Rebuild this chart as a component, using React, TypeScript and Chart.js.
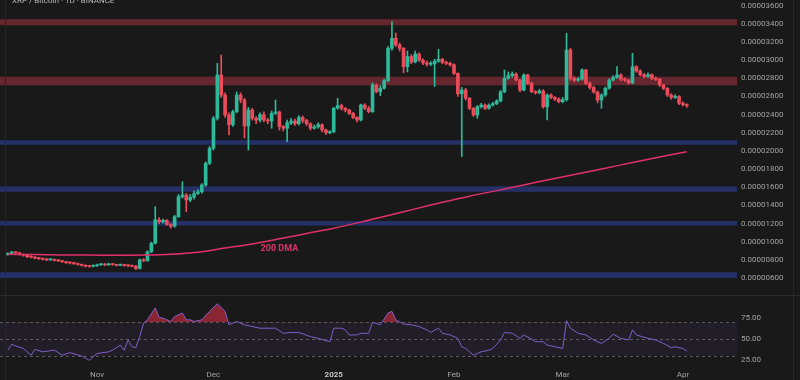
import React, { useEffect, useRef } from "react";
import { Chart, registerables } from "chart.js";
Chart.register(...registerables);

// ---------------- data (prices in satoshi, 1e-8 BTC) ----------------
const firstOpen = 860;
const closes = [
  870, 885, 878, 860, 850, 835, 830, 820, 815, 805, 800, 803, 795, 790, 780, 770, 765, 760, 750, 740,
  730, 728, 735, 745, 750, 745, 755, 748, 740, 745, 738, 735, 730, 705, 800, 790, 890, 983, 1240, 1220,
  1235, 1190, 1170, 1276, 1496, 1515, 1460, 1490, 1530, 1550, 1625, 1864, 2029, 2360, 2837, 2616, 2396, 2290, 2432, 2616,
  2560, 2275, 2451, 2360, 2340, 2400, 2340, 2330, 2415, 2430, 2267, 2250, 2310, 2330, 2300, 2370, 2335, 2300, 2250, 2265,
  2290, 2230, 2200, 2212, 2470, 2500, 2470, 2451, 2415, 2370, 2341, 2506, 2470, 2432, 2727, 2653, 2690, 2774, 3131, 3241,
  3168, 3131, 2928, 3040, 2980, 3068, 3000, 2970, 2955, 2960, 2990, 3010, 2975, 2965, 2950, 2855, 2630, 2671, 2580, 2470,
  2396, 2487, 2505, 2470, 2505, 2520, 2550, 2653, 2800, 2830, 2848, 2782, 2671, 2837, 2745, 2653, 2640, 2660, 2487, 2616,
  2590, 2570, 2543, 2565, 3112, 2800, 2780, 2790, 2892, 2745, 2700, 2650, 2561, 2616, 2690, 2782, 2810, 2837, 2790, 2780,
  2750, 2928, 2880, 2840, 2820, 2840, 2800, 2790, 2727, 2690, 2616, 2590, 2600, 2525, 2510, 2500,
];
const highs = [
  880, 895, 892, 882, 865, 855, 845, 835, 828, 822, 815, 815, 810, 800, 795, 785, 778, 772, 765, 755,
  745, 740, 745, 755, 762, 760, 765, 762, 752, 755, 752, 745, 742, 740, 810, 815, 900, 995, 1386, 1265,
  1250, 1245, 1200, 1290, 1520, 1661, 1530, 1520, 1560, 1575, 1640, 1880, 2050, 2380, 2965, 3057, 2640, 2420, 2450, 2650,
  2640, 2580, 2480, 2470, 2380, 2420, 2430, 2360, 2440, 2561, 2440, 2280, 2340, 2360, 2350, 2390, 2385, 2350, 2310, 2285,
  2310, 2300, 2240, 2225, 2480, 2580, 2515, 2480, 2460, 2425, 2380, 2515, 2520, 2490, 2750, 2740, 2720, 2790, 3150, 3424,
  3300, 3190, 3140, 3100, 3060, 3100, 3080, 3015, 2990, 2985, 3010, 3120, 3020, 2990, 2980, 2960, 2860, 2700, 2690, 2590,
  2480, 2500, 2525, 2520, 2520, 2535, 2565, 2665, 2892, 2870, 2870, 2860, 2790, 2850, 2845, 2760, 2665, 2680, 2675, 2630,
  2630, 2600, 2585, 2590, 3296, 3130, 2820, 2810, 2905, 2900, 2760, 2715, 2660, 2630, 2705, 2795, 2830, 2930, 2850, 2805,
  2790, 3076, 2940, 2895, 2855, 2860, 2850, 2815, 2800, 2735, 2700, 2630, 2620, 2610, 2540, 2520,
];
const lows = [
  850, 865, 870, 852, 840, 825, 822, 810, 805, 798, 792, 795, 788, 780, 772, 762, 755, 750, 742, 732,
  722, 718, 722, 728, 738, 735, 740, 740, 732, 735, 730, 725, 722, 692, 700, 780, 785, 880, 975, 1200,
  1205, 1180, 1150, 1160, 1270, 1480, 1331, 1440, 1470, 1520, 1535, 1610, 1850, 2010, 2340, 2590, 2370, 2176, 2270, 2420,
  2530, 2143, 2010, 2340, 2300, 2320, 2320, 2300, 2250, 2400, 2230, 2220, 2102, 2290, 2280, 2285, 2310, 2280, 2230, 2240,
  2250, 2210, 2180, 2190, 2200, 2460, 2450, 2430, 2400, 2355, 2320, 2330, 2455, 2420, 2425, 2640, 2610, 2680, 2760, 3110,
  3150, 3100, 2860, 2870, 2960, 2970, 2985, 2950, 2935, 2940, 2708, 2975, 2960, 2950, 2935, 2840, 2600, 1937, 2560, 2455,
  2380, 2360, 2470, 2455, 2460, 2495, 2510, 2540, 2640, 2790, 2810, 2770, 2650, 2660, 2730, 2640, 2625, 2630, 2470, 2341,
  2575, 2555, 2530, 2530, 2550, 2780, 2760, 2765, 2780, 2730, 2680, 2635, 2530, 2470, 2600, 2680, 2770, 2800, 2775, 2765,
  2735, 2740, 2865, 2825, 2805, 2810, 2785, 2775, 2710, 2675, 2600, 2570, 2580, 2510, 2495, 2480,
];

// 200-day moving average (day index, value)
const dmaIdx = [0, 7, 14, 21, 28, 35, 42, 49, 56, 63, 70, 77, 84, 91, 98, 105, 112, 119, 126, 133, 140, 147, 154, 161, 168, 175];
const dmaVals = [861, 858, 855, 853, 851, 853, 862, 885, 930, 976, 1032, 1091, 1149, 1216, 1289, 1362, 1434, 1502, 1563, 1626, 1688, 1749, 1810, 1872, 1933, 1992];

// RSI (day index, value)
const rsiIdx = [0, 1, 2, 4, 6, 7, 9, 12, 14, 16, 19, 21, 23, 26, 27, 29, 30, 31, 32, 33, 34, 35, 36, 38, 39, 40, 42, 43, 45, 46,
  47, 48, 50, 52, 54, 56, 57, 59, 61, 65, 67, 69, 71, 73, 75, 78, 80, 83, 84, 86, 87, 88, 90, 91, 93, 94, 96, 98, 99, 100,
  102, 104, 106, 108, 109, 111, 112, 114, 116, 117, 118, 120, 121, 122, 124, 125, 127, 128, 130, 132, 133, 135, 136, 138, 139, 141, 143, 144, 145, 147,
  149, 151, 153, 155, 156, 158, 160, 161, 162, 165, 167, 169, 171, 172, 174, 175];
const rsiVals = [37, 44, 42, 39, 31, 38, 35, 37, 31, 34, 30, 25, 33, 35, 37, 43, 37, 49, 41, 40, 53, 69, 73, 87, 76, 75, 71, 77, 81, 73,
  73, 71, 73, 83, 92, 83, 67, 71, 67, 63, 63, 63, 57, 58, 58, 53, 51, 47, 63, 63, 61, 55, 55, 57, 57, 70, 67, 81, 83, 73,
  68, 67, 65, 61, 58, 63, 57, 55, 51, 41, 39, 31, 33, 35, 37, 39, 49, 58, 57, 51, 55, 50, 47, 47, 43, 41, 39, 72, 63, 57,
  55, 49, 45, 51, 56, 51, 49, 61, 55, 51, 49, 45, 40, 41, 39, 36];

// zones
const bandLows = [3385, 2724, 2068, 1550, 1178, 600];
const bandHighs = [3452, 2818, 2118, 1610, 1228, 664];
const bandKinds = ["res", "res", "sup", "sup", "sup", "sup"];

// ticks
const priceTicks = [600, 800, 1000, 1200, 1400, 1600, 1800, 2000, 2200, 2400, 2600, 2800, 3000, 3200, 3400, 3600];
const rsiTicks = [25, 50, 75];
const rsiLevels = [70, 50, 30];
const monthTickIdx = [23, 53, 84, 115, 143, 174];
const monthTickLabels = ["Nov", "Dec", "2025", "Feb", "Mar", "Apr"];

const titleText = "XRP / Bitcoin · 1D · BINANCE";
const dmaLabel = "200 DMA";
const dmaLabelIdx = 70;
const dmaLabelVal = 918;

// ---------------- style ----------------
const BG = "#191919";
const UP = "#2db99a";
const DOWN = "#ec4b5b";
const RED_BAND = "#65262d";
const BLUE_BAND = "#243066";
const DMA_COLOR = "#e2306a";
const RSI_COLOR = "#7e5fc6";
const TEXT = "#a3a3a3";
const FONT = "Roboto, 'Noto Sans', sans-serif";
const X_MIN = -2.01;
const X_MAX = 187.42;
const AXIS_W = 65;

const opens = closes.map((c, i) => (i === 0 ? firstOpen : closes[i - 1]));
const candleColor = (i: number) => (closes[i] >= opens[i] ? UP : DOWN);

function fixVertical(s: any) {
  s.width = AXIS_W;
  s.paddingTop = 0;
  s.paddingBottom = 0;
  if (s._margins) {
    s._margins.top = 0;
    s._margins.bottom = 0;
  }
}

export default function App() {
  const mainRef = useRef<HTMLCanvasElement>(null);
  const rsiRef = useRef<HTMLCanvasElement>(null);

  useEffect(() => {
    const bandsPlugin = {
      id: "bands",
      beforeDatasetsDraw(chart: any) {
        const { ctx, chartArea, scales } = chart;
        const y = scales.y;
        ctx.save();
        bandLows.forEach((lo, k) => {
          const y1 = y.getPixelForValue(bandHighs[k]);
          const y2 = y.getPixelForValue(lo);
          ctx.fillStyle = bandKinds[k] === "res" ? RED_BAND : BLUE_BAND;
          ctx.fillRect(chartArea.left, y1, chartArea.right + 2 - chartArea.left, y2 - y1);
        });
        ctx.restore();
      },
      afterDatasetsDraw(chart: any) {
        const { ctx, scales } = chart;
        ctx.save();
        ctx.font = `bold 9px ${FONT}`;
        ctx.fillStyle = DMA_COLOR;
        ctx.textAlign = "center";
        ctx.textBaseline = "middle";
        ctx.fillText(dmaLabel, scales.x.getPixelForValue(dmaLabelIdx), scales.y.getPixelForValue(dmaLabelVal));
        ctx.restore();
      },
    };

    const main = new Chart(mainRef.current!, {
      type: "bar",
      data: {
        datasets: [
          {
            type: "line",
            label: "200 DMA",
            data: dmaIdx.map((x, k) => ({ x, y: dmaVals[k] })),
            borderColor: DMA_COLOR,
            borderWidth: 1.5,
            pointRadius: 0,
            tension: 0.35,
            order: 0,
          } as any,
          {
            type: "bar",
            label: "wick",
            data: highs.map((h, i) => ({ x: i, y: [lows[i], h] })),
            backgroundColor: (c: any) => candleColor(c.dataIndex),
            barThickness: 1,
            grouped: false,
            order: 2,
          } as any,
          {
            type: "bar",
            label: "body",
            data: closes.map((c, i) => ({ x: i, y: [opens[i], c] })),
            backgroundColor: (c: any) => candleColor(c.dataIndex),
            barThickness: 3,
            minBarLength: 1,
            grouped: false,
            order: 1,
          } as any,
        ],
      },
      options: {
        animation: false,
        responsive: false,
        layout: { padding: 0 },
        plugins: { legend: { display: false }, tooltip: { enabled: false } },
        scales: {
          x: { type: "linear", min: X_MIN, max: X_MAX, display: false, offset: false, grid: { display: false } },
          y: {
            position: "right",
            min: 402,
            max: 3663,
            grid: { display: false, drawTicks: false },
            border: { display: false },
            afterBuildTicks: (s: any) => {
              s.ticks = priceTicks.map((v) => ({ value: v }));
            },
            afterFit: fixVertical,
            ticks: {
              autoSkip: false,
              color: TEXT,
              padding: 6,
              font: { size: 8, family: FONT },
              callback: (v: any) => (Number(v) / 1e8).toFixed(8),
            },
          },
        },
      } as any,
      plugins: [bandsPlugin],
    });

    const rsiPlugin = {
      id: "rsiBands",
      beforeDatasetsDraw(chart: any) {
        const { ctx, chartArea, scales } = chart;
        const y = scales.y;
        const right = chartArea.right + 2;
        ctx.save();
        const yTop = y.getPixelForValue(rsiLevels[0]);
        const yBot = y.getPixelForValue(rsiLevels[2]);
        ctx.fillStyle = "rgba(126,87,194,0.09)";
        ctx.fillRect(chartArea.left, yTop, right - chartArea.left, yBot - yTop);
        ctx.strokeStyle = "rgba(130,130,140,0.6)";
        ctx.lineWidth = 1;
        ctx.setLineDash([3, 3]);
        rsiLevels.forEach((lv) => {
          const py = Math.round(y.getPixelForValue(lv)) + 0.5;
          ctx.beginPath();
          ctx.moveTo(chartArea.left, py);
          ctx.lineTo(right, py);
          ctx.stroke();
        });
        ctx.restore();
      },
    };

    const rsi = new Chart(rsiRef.current!, {
      type: "line",
      data: {
        datasets: [
          {
            label: "RSI",
            data: rsiIdx.map((x, k) => ({ x, y: rsiVals[k] })),
            borderColor: RSI_COLOR,
            borderWidth: 1,
            pointRadius: 0,
            tension: 0,
            fill: { target: { value: 70 }, above: "rgba(214,45,70,0.6)", below: "rgba(0,0,0,0)" },
          } as any,
        ],
      },
      options: {
        animation: false,
        responsive: false,
        layout: { padding: 0 },
        plugins: { legend: { display: false }, tooltip: { enabled: false } },
        scales: {
          x: {
            type: "linear",
            min: X_MIN,
            max: X_MAX,
            offset: false,
            grid: { display: false, drawTicks: false },
            border: { display: false },
            afterBuildTicks: (s: any) => {
              s.ticks = monthTickIdx.map((v) => ({ value: v }));
            },
            afterFit: (s: any) => {
              s.height = 14;
            },
            ticks: {
              autoSkip: false,
              maxRotation: 0,
              padding: 4,
              color: (c: any) => (monthTickLabels[c.index] === "2025" ? "#c4c4c4" : TEXT),
              font: (c: any) => ({ size: 8, family: FONT, weight: monthTickLabels[c.index] === "2025" ? "bold" : "normal" }),
              callback: (_v: any, i: number) => monthTickLabels[i],
            },
          },
          y: {
            position: "right",
            min: 18.2,
            max: 101.2,
            grid: { display: false, drawTicks: false },
            border: { display: false },
            afterBuildTicks: (s: any) => {
              s.ticks = rsiTicks.map((v) => ({ value: v }));
            },
            afterFit: fixVertical,
            ticks: {
              autoSkip: false,
              color: TEXT,
              padding: 6,
              font: { size: 8, family: FONT },
              callback: (v: any) => Number(v).toFixed(2),
            },
          },
        },
      } as any,
      plugins: [rsiPlugin],
    });

    return () => {
      main.destroy();
      rsi.destroy();
    };
  }, []);

  return (
    <div
      style={{
        position: "fixed",
        left: 0,
        top: 0,
        width: 800,
        height: 380,
        background: BG,
        overflow: "hidden",
        fontFamily: FONT,
      }}
    >
      <canvas ref={mainRef} width={800} height={296} style={{ position: "absolute", left: 0, top: 0 }} />
      <canvas ref={rsiRef} width={800} height={84} style={{ position: "absolute", left: 0, top: 296 }} />
      <div style={{ position: "absolute", left: 0, top: 295, width: 800, height: 1, background: "#2a2a2a" }} />
      <div style={{ position: "absolute", left: 5, top: 0, width: 1, height: 380, background: "#262626" }} />
      <div style={{ position: "absolute", left: 793, top: 0, width: 1, height: 380, background: "#262626" }} />
      <div
        style={{
          position: "absolute",
          left: 12,
          top: -3,
          fontSize: 8,
          lineHeight: "8px",
          color: "#b8b8b8",
          whiteSpace: "nowrap",
        }}
      >
        {titleText}
      </div>
    </div>
  );
}
